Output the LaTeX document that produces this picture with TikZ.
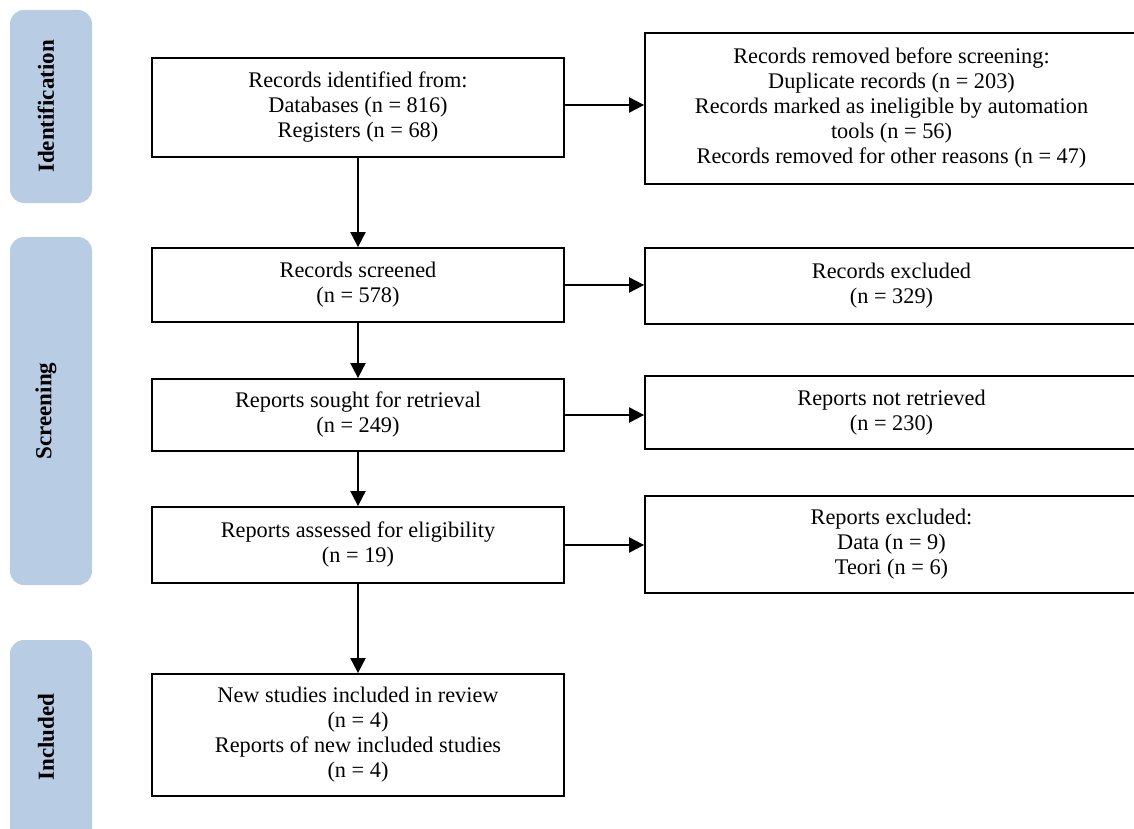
\documentclass[tikz,border=0pt]{standalone}
\usepackage{fontspec}
\setmainfont{Liberation Serif}
\usetikzlibrary{arrows.meta}
\definecolor{phasecol}{HTML}{B8CCE4}
\tikzset{
  box/.style={draw=black, line width=1.8pt, align=center, inner sep=0pt,
    font=\fontsize{22.3}{25}\selectfont},
  phasebar/.style={fill=phasecol, draw=none, rounded corners=14pt, minimum width=82pt},
  phaselabel/.style={rotate=90, font=\fontsize{23}{26}\selectfont\bfseries},
  arr/.style={line width=2pt, -{Triangle[length=15pt,width=15pt]}}
}
\begin{document}
\begin{tikzpicture}[x=1pt,y=-1pt]
\clip (0,0) rectangle (1134,829);
\useasboundingbox (0,0) rectangle (1134,829);
% phase bars
\node[phasebar, minimum height=193pt] (p1) at (51,106.5) {};
\node[phasebar, minimum height=348pt] (p2) at (51,411) {};
\node[phasebar, minimum height=220pt] (p3) at (51,750) {};
\node[phaselabel] (l1) at (46,106.5) {Identification};
\node[phaselabel] (l2) at (46,411) {Screening};
\node[phaselabel] (l3) at (46,737) {Included};
% main column
\node[box, minimum width=412pt, minimum height=99pt] (id) at (358,107.5)
  {Records identified from:\\Databases (n = 816)\\Registers (n = 68)};
\node[box, minimum width=412pt, minimum height=74pt] (scr) at (358,285)
  {Records screened\\(n = 578)};
\node[box, minimum width=412pt, minimum height=72pt] (sought) at (358,415)
  {Reports sought for retrieval\\(n = 249)};
\node[box, minimum width=412pt, minimum height=76pt] (assess) at (358,545)
  {Reports assessed for eligibility\\(n = 19)};
\node[box, minimum width=412pt, minimum height=122pt] (incl) at (358,735)
  {New studies included in review\\(n = 4)\\Reports of new included studies\\(n = 4)};
% right column
\node[box, minimum width=493pt, minimum height=151pt] (rem) at (891.5,108.5)
  {Records removed before screening:\\Duplicate records (n = 203)\\Records marked as ineligible by automation\\tools (n = 56)\\Records removed for other reasons (n = 47)};
\node[box, minimum width=493pt, minimum height=76pt] (exc) at (891.5,286)
  {Records excluded\\(n = 329)};
\node[box, minimum width=493pt, minimum height=73pt] (notret) at (891.5,412.5)
  {Reports not retrieved\\(n = 230)};
\node[box, minimum width=493pt, minimum height=97pt] (repexc) at (891.5,544.5)
  {Reports excluded:\\Data (n = 9)\\Teori (n = 6)};
% arrows
\draw[arr] (id.south) -- (scr.north);
\draw[arr] (scr.south) -- (sought.north);
\draw[arr] (sought.south) -- (assess.north);
\draw[arr] (assess.south) -- (incl.north);
\draw[arr] ([yshift=2.5pt]id.east) -- ([yshift=2.5pt]id.east -| rem.west);
\draw[arr] (scr.east) -- (scr.east -| exc.west);
\draw[arr] (sought.east) -- (sought.east -| notret.west);
\draw[arr] (assess.east) -- (assess.east -| repexc.west);
\end{tikzpicture}
\end{document}
